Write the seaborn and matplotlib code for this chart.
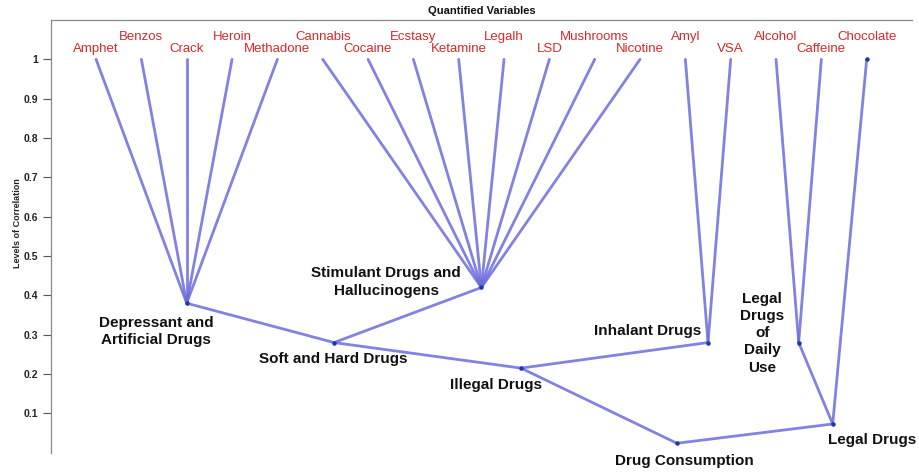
import numpy as np
import pandas as pd
import matplotlib
matplotlib.use("Agg")
import matplotlib.pyplot as plt
import seaborn as sns

# leaves of the tree (left to right) and the level they sit on
leaves = ['Amphet', 'Benzos', 'Crack', 'Heroin', 'Methadone',
          'Cannabis', 'Cocaine', 'Ecstasy', 'Ketamine', 'Legalh', 'LSD',
          'Mushrooms', 'Nicotine', 'Amyl', 'VSA', 'Alcohol', 'Caffeine',
          'Chocolate']
leaf_level = 1.0

# merged groups: name, children (leaf names or group names), correlation level
group_names = ['Depressant and\nArtificial Drugs',
               'Stimulant Drugs and\nHallucinogens',
               'Inhalant Drugs',
               'Legal\nDrugs\nof\nDaily\nUse',
               'Soft and Hard Drugs',
               'Illegal Drugs',
               'Legal Drugs',
               'Drug Consumption']
group_children = [leaves[0:5],
                  leaves[5:13],
                  leaves[13:15],
                  leaves[15:17],
                  [group_names[0], group_names[1]],
                  [group_names[4], group_names[2]],
                  [group_names[3], 'Chocolate'],
                  [group_names[5], group_names[6]]]
group_levels = [0.38, 0.42, 0.28, 0.28, 0.28, 0.215, 0.073, 0.024]

# where each group label's centre goes, relative to its node
label_offset = {
    group_names[0]: (-0.68, -0.072),
    group_names[1]: (-2.1, 0.014),
    group_names[2]: (-1.34, 0.03),
    group_names[3]: (-0.8, 0.024),
    group_names[4]: (-0.02, -0.042),
    group_names[5]: (-0.55, -0.043),
    group_names[6]: (0.88, -0.041),
    group_names[7]: (0.17, -0.044),
}

# positions of every node
pos = {}
for i, name in enumerate(leaves):
    pos[name] = (i + 1, leaf_level)
for name, kids, lvl in zip(group_names, group_children, group_levels):
    pos[name] = (np.mean([pos[k][0] for k in kids]), lvl)

rows = []
seg = 0
for name, kids in zip(group_names, group_children):
    for k in kids:
        rows.append({'seg': seg, 'x': pos[k][0], 'y': pos[k][1]})
        rows.append({'seg': seg, 'x': pos[name][0], 'y': pos[name][1]})
        seg += 1
segments = pd.DataFrame(rows)

sns.set_style('white')
plt.rcParams['font.family'] = ['Liberation Sans', 'DejaVu Sans']

fig = plt.figure(figsize=(9.19, 4.72), dpi=100)
ax = fig.add_axes([0.0552, 0.0409, 0.9372, 0.9167])

sns.lineplot(data=segments, x='x', y='y', units='seg', estimator=None,
             sort=False, color='#6c6cde', lw=2, alpha=0.85, ax=ax, legend=False)

node_x = [pos[n][0] for n in group_names] + [pos['Chocolate'][0]]
node_y = [pos[n][1] for n in group_names] + [pos['Chocolate'][1]]
ax.scatter(node_x, node_y, s=5, color='#1a3aa8', zorder=3)

for i, name in enumerate(leaves):
    x, y = pos[name]
    ty = 1.057 if i % 2 == 1 else 1.026
    ax.text(x, ty, name, color='#d42a2a', fontsize=9.5, ha='center',
            va='center')

for name in group_names:
    x, y = pos[name]
    dx, dy = label_offset[name]
    ax.text(x + dx, y + dy, name, fontsize=11, fontweight='bold',
            ha='center', va='center', color='#111111',
            linespacing=1.3, clip_on=False)

ax.set_xlim(0, 19)
ax.set_ylim(0, 1.1)
ax.set_yticks(np.arange(0.1, 1.01, 0.1))
ax.set_yticklabels(['0.1', '0.2', '0.3', '0.4', '0.5', '0.6', '0.7', '0.8',
                    '0.9', '1'])
ax.set_xticks([])
ax.tick_params(axis='y', direction='out', length=6, width=0.8,
               colors='#555555', labelsize=7.5, left=True, pad=3)
for lab in ax.get_yticklabels():
    lab.set_fontweight('bold')
    lab.set_color('#222222')
ax.set_xlabel('')
ax.set_ylabel('Levels of Correlation', fontsize=6.5, fontweight='bold',
              color='#222222', labelpad=1)
ax.yaxis.label.set_y(0.53)
ax.set_title('Quantified Variables', fontsize=8, fontweight='bold',
             color='#111111', pad=4)

for side in ['right', 'bottom']:
    ax.spines[side].set_visible(False)
for side in ['left', 'top']:
    ax.spines[side].set_color('#888888')
    ax.spines[side].set_linewidth(0.9)

fig.savefig('out.png', dpi=100)
